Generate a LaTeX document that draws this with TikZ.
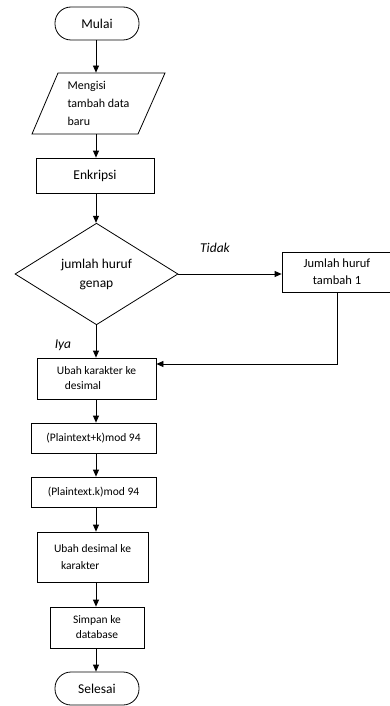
\documentclass[tikz,border=0pt]{standalone}
\usepackage{fontspec}
\setmainfont{Carlito}
\usetikzlibrary{arrows.meta,shapes.geometric}
\begin{document}
\begin{tikzpicture}[x=1pt,y=-1pt,
  line width=0.8pt,
  box/.style={draw, rectangle, inner sep=0pt, align=center},
  term/.style={draw, rounded corners=16pt, inner sep=0pt, minimum width=84pt, minimum height=33pt, font=\fontsize{13.5}{16}\selectfont},
  arr/.style={-{Triangle[width=6pt,length=7pt]}},
  lbl/.style={font=\fontsize{13.5}{16}\selectfont\itshape, inner sep=0pt}]
\useasboundingbox (0,0) rectangle (390,706);
\coordinate (spine) at (96,0);
\node[term] (mulai) at (97,23.5) {Mulai};
\draw (58,73) -- (165,73) -- (138,134) -- (32,134) -- cycle;
\node[inner sep=0pt, minimum width=80pt, minimum height=61pt, align=left,
  font=\fontsize{12}{18}\selectfont] (input) at (98.5,103.5) {Mengisi\\tambah data\\baru};
\node[box, minimum width=118pt, minimum height=35pt, font=\fontsize{13.5}{16}\selectfont] (enk) at (95,175.5) {Enkripsi};
\node[draw, diamond, inner sep=0pt, minimum width=163pt, minimum height=98pt, align=center,
  font=\fontsize{13.5}{19}\selectfont] (dec) at (96.5,274) {jumlah huruf\\genap};
\node[box, minimum width=110pt, minimum height=40pt, font=\fontsize{12.5}{17}\selectfont] (tambah) at (337,272) {Jumlah huruf\\tambah 1};
\node[box, minimum width=119pt, minimum height=41pt, align=left, font=\fontsize{11.5}{15}\selectfont] (ubah1) at (96.5,378.5) {Ubah karakter ke\\\hspace*{8pt}desimal};
\node[box, minimum width=125pt, minimum height=30pt, font=\fontsize{11.5}{15}\selectfont] (p1) at (93.5,438) {(Plaintext+k)mod 94};
\node[box, minimum width=125pt, minimum height=30pt, font=\fontsize{11.5}{15}\selectfont] (p2) at (93.5,492) {(Plaintext.k)mod 94};
\node[box, minimum width=111pt, minimum height=50pt, align=left, font=\fontsize{11.5}{17}\selectfont] (ubah2) at (92.5,557) {Ubah desimal ke\\\hspace*{7pt}karakter};
\node[box, minimum width=94pt, minimum height=41pt, font=\fontsize{11.5}{15}\selectfont] (simpan) at (97,627.5) {Simpan ke\\database};
\node[term] (selesai) at (97,688.5) {Selesai};
\node[lbl] (tidak) at (215,248) {Tidak};
\node[lbl] (iya) at (63,345) {Iya};
\draw[arr] (mulai.south -| spine) -- (input.north -| spine);
\draw[arr] (input.south -| spine) -- (enk.north -| spine);
\draw[arr] (enk.south -| spine) -- (dec.north -| spine);
\draw[arr] (dec.east) -- (tambah.west |- dec.east);
\draw[arr] (dec.south -| spine) -- (ubah1.north -| spine);
\draw[arr] (tambah.south) |- (ubah1.east |- 0,364);
\draw[arr] (ubah1.south -| spine) -- (p1.north -| spine);
\draw[arr] (p1.south -| spine) -- (p2.north -| spine);
\draw[arr] (p2.south -| spine) -- (ubah2.north -| spine);
\draw[arr] (ubah2.south -| spine) -- (simpan.north -| spine);
\draw[arr] (simpan.south -| spine) -- (selesai.north -| spine);
\end{tikzpicture}
\end{document}
